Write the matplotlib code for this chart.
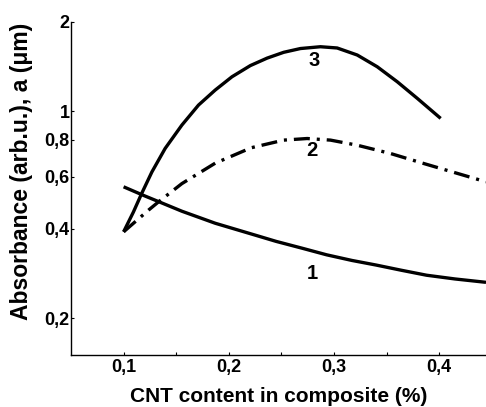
import matplotlib
matplotlib.use("Agg")
import matplotlib.pyplot as plt
from matplotlib.ticker import FixedLocator, FixedFormatter, NullLocator, NullFormatter

plt.rcParams['font.family'] = ['Liberation Sans', 'DejaVu Sans']
plt.rcParams['font.weight'] = 'bold'
plt.rcParams['lines.scale_dashes'] = False

# Curve 1 (solid, decreasing)
x1 = [0.100, 0.119, 0.1554, 0.1871, 0.2252, 0.245, 0.270, 0.293, 0.317, 0.340, 0.364, 0.388, 0.415, 0.4445]
y1 = [0.555, 0.519, 0.459, 0.418, 0.381, 0.363, 0.344, 0.327, 0.313, 0.302, 0.290, 0.279, 0.271, 0.264]

# Curve 2 (dash-dot)
x2 = [0.100, 0.1237, 0.133, 0.1554, 0.1871, 0.2213, 0.2522, 0.2745, 0.2967, 0.3221, 0.3538, 0.3855, 0.4173, 0.4445]
y2 = [0.391, 0.463, 0.493, 0.569, 0.667, 0.752, 0.798, 0.808, 0.798, 0.767, 0.719, 0.665, 0.616, 0.577]

# Curve 3 (solid, maximum)
x3 = [0.100, 0.1093, 0.1173, 0.1269, 0.1395, 0.1554, 0.1712, 0.1871, 0.2030, 0.2205, 0.2364,
      0.2522, 0.2681, 0.2871, 0.3030, 0.3221, 0.3411, 0.3602, 0.3792, 0.4014]
y3 = [0.391, 0.456, 0.528, 0.623, 0.748, 0.897, 1.048, 1.178, 1.306, 1.425, 1.510,
      1.580, 1.627, 1.650, 1.634, 1.547, 1.412, 1.256, 1.104, 0.945]

curve_labels = ["1", "2", "3"]
label_pos = [(0.279, 0.283), (0.2792, 0.738), (0.2808, 1.488)]

yticks = [0.2, 0.4, 0.6, 0.8, 1.0, 2.0]
ytick_labels = ["0,2", "0,4", "0,6", "0,8", "1", "2"]
xticks = [0.1, 0.2, 0.3, 0.4]
xtick_labels = ["0,1", "0,2", "0,3", "0,4"]
xminor = [0.15, 0.25, 0.35]

fig = plt.figure(figsize=(4.86, 4.07), dpi=100)
ax = fig.add_axes([71/486, 1-355/407, 1-71/486, (355-22)/407])

lw = 2.4
ax.plot(x1, y1, color='black', lw=lw, solid_capstyle='butt', solid_joinstyle='round')
ax.plot(x3, y3, color='black', lw=lw, solid_capstyle='butt', solid_joinstyle='round')
l2, = ax.plot(x2, y2, color='black', lw=lw)
l2.set_dashes([11.5, 5, 2.2, 5])

for lab, (lx, ly) in zip(curve_labels, label_pos):
    ax.text(lx, ly, lab, fontsize=14.5, fontweight='bold', ha='center', va='center')

ax.set_yscale('log')
ax.set_xlim(0.05, 0.4445)
ax.set_ylim(0.15, 2.0)

ax.yaxis.set_major_locator(FixedLocator(yticks))
ax.yaxis.set_major_formatter(FixedFormatter(ytick_labels))
ax.yaxis.set_minor_locator(NullLocator())
ax.yaxis.set_minor_formatter(NullFormatter())
ax.xaxis.set_major_locator(FixedLocator(xticks))
ax.xaxis.set_major_formatter(FixedFormatter(xtick_labels))
ax.xaxis.set_minor_locator(FixedLocator(xminor))

ax.tick_params(axis='both', which='both', direction='in', length=2, width=0.8,
               labelsize=13, pad=1)
ax.tick_params(axis='x', pad=3)
for t in ax.get_xticklabels() + ax.get_yticklabels():
    t.set_fontweight('bold')

for s in ['top', 'right']:
    ax.spines[s].set_visible(False)
for s in ['left', 'bottom']:
    ax.spines[s].set_linewidth(1.0)

ax.set_xlabel("CNT content in composite (%)", fontsize=15, fontweight='bold', labelpad=8)
ax.set_ylabel("Absorbance (arb.u.), a (\u03bcm)", fontsize=16.5, fontweight='bold')
ax.yaxis.set_label_coords(-0.092, 0.55)

fig.savefig("out.png", dpi=100)
